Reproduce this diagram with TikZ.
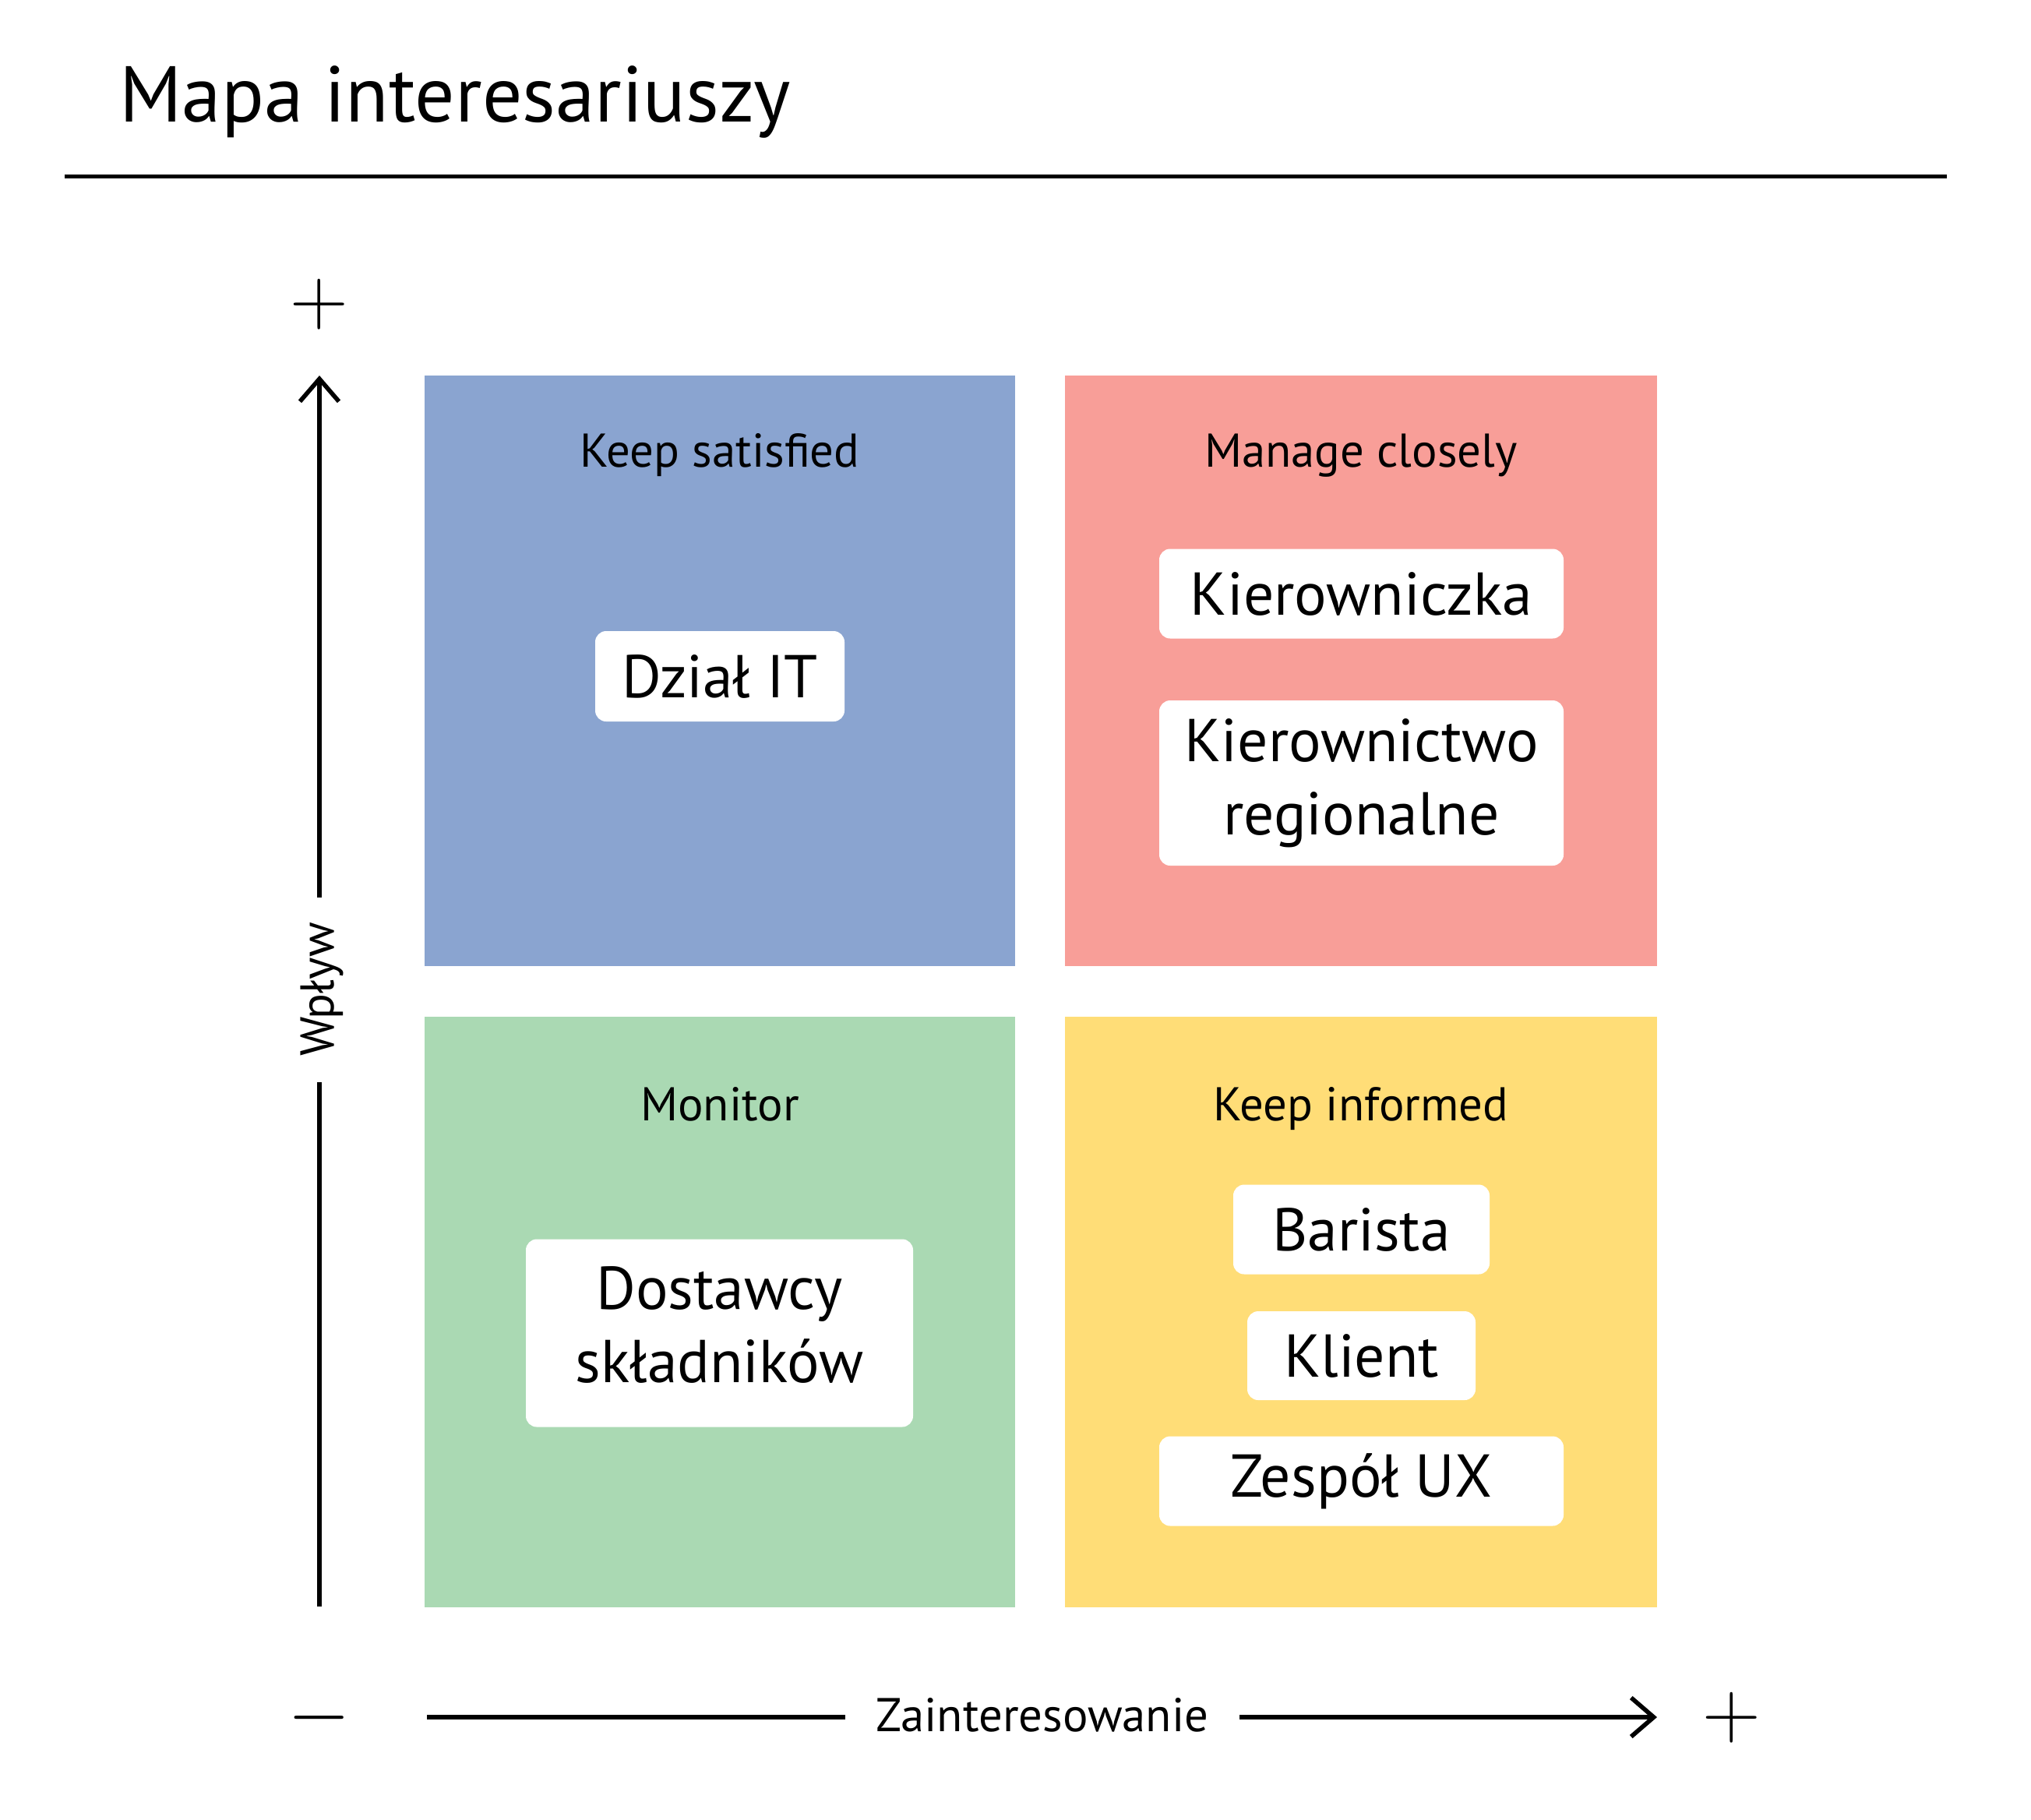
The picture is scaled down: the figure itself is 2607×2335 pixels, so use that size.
\documentclass[tikz,border=0pt]{standalone}
\usepackage{fontspec}
\setmainfont{PT Sans}
\usetikzlibrary{arrows.meta}
\definecolor{qblue}{RGB}{138,164,208}
\definecolor{qred}{RGB}{248,158,152}
\definecolor{qgreen}{RGB}{170,217,179}
\definecolor{qyellow}{RGB}{255,221,119}
\begin{document}
\begin{tikzpicture}[x=0.5pt,y=-0.5pt,
  quad/.style={fill=#1,draw=none},
  qlabel/.style={anchor=base,inner sep=0pt,font=\fontsize{30.4pt}{36pt}\selectfont},
  card/.style={fill=white,draw=none,rounded corners=7pt,inner sep=0pt,align=center,
    font=\fontsize{38.8pt}{47pt}\selectfont},
  axisline/.style={line width=2.8pt},
  axistip/.style={-{Straight Barb[length=14.5pt,width=25pt,line cap=butt]}},
  sign/.style={inner sep=0pt,font=\fontsize{24.88pt}{30pt}\selectfont}]
\useasboundingbox (0,0) rectangle (2607,2335);
\fill[white] (0,0) rectangle (2607,2335);
% title
\node[anchor=base west,inner sep=0pt,font=\fontsize{50.8pt}{60pt}\selectfont] (title) at (153,156) {Mapa interesariuszy};
\coordinate (ruleL) at (83,226);
\coordinate (ruleR) at (2499,226);
\draw[line width=2.5pt] (ruleL) -- (ruleR);
% quadrants
\fill[quad=qblue]   (545,482)  rectangle (1303,1240);
\fill[quad=qred]    (1367,482) rectangle (2127,1240);
\fill[quad=qgreen]  (545,1305) rectangle (1303,2063);
\fill[quad=qyellow] (1367,1305) rectangle (2127,2063);
% quadrant labels
\node[qlabel] (ks) at (924,599) {Keep satisfied};
\node[qlabel] (mc) at (1747,599) {Manage closely};
\node[qlabel] (mo) at (924,1438) {Monitor};
\node[qlabel] (ki) at (1747,1438) {Keep informed};
% cards
\node[card,minimum width=160pt,minimum height=58pt] (it) at (924,868) {Dział IT};
\node[card,minimum width=259.5pt,minimum height=57.5pt] (kz) at (1747.5,762) {Kierowniczka};
\node[card,minimum width=259.5pt,minimum height=106pt] (kr) at (1747.5,1005) {Kierownictwo\\regionalne};
\node[card,minimum width=248.5pt,minimum height=120.5pt,text depth=11pt] (ds) at (923.5,1711) {Dostawcy\\składników};
\node[card,minimum width=164.5pt,minimum height=57.5pt] (ba) at (1747.5,1578) {Barista};
\node[card,minimum width=146.5pt,minimum height=57pt] (kl) at (1747.5,1740) {Klient};
\node[card,minimum width=259.5pt,minimum height=57.5pt] (ux) at (1747.5,1901) {Zespół UX};
% vertical axis
\node[rotate=90,anchor=base,inner sep=0pt,font=\fontsize{30.4pt}{36pt}\selectfont] (wp) at (428,1270) {Wpływ};
\coordinate (ybot) at (410,2062);
\coordinate (ygap1) at (410,1389);
\coordinate (ygap2) at (410,1152);
\coordinate (ytop) at (410,482);
\draw[axisline] (ybot) -- (ygap1);
\draw[axisline,axistip] (ygap2) -- (ytop);
\node[sign] (yplus) at (410,391) {\scalebox{2.08}{$+$}};
% horizontal axis
\node[anchor=base,inner sep=0pt,font=\fontsize{30.4pt}{36pt}\selectfont] (zi) at (1338,2222) {Zainteresowanie};
\coordinate (xleft) at (548,2204);
\coordinate (xgap1) at (1085,2204);
\coordinate (xgap2) at (1591,2204);
\coordinate (xright) at (2127,2204);
\draw[axisline] (xleft) -- (xgap1);
\draw[axisline,axistip] (xgap2) -- (xright);
\node[sign] (xminus) at (410,2205) {\scalebox{2.08}{$-$}};
\node[sign] (xplus) at (2223,2205) {\scalebox{2.08}{$+$}};
\end{tikzpicture}
\end{document}
